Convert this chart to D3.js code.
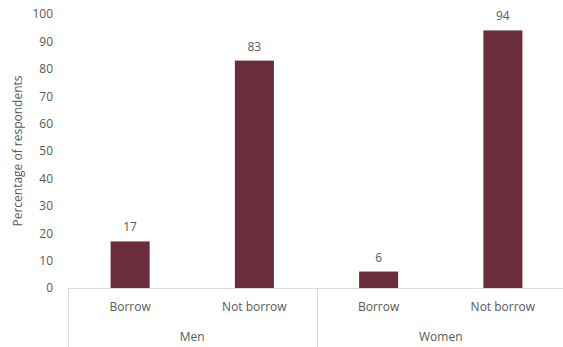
<!DOCTYPE html>
<html>
<head>
<meta charset="utf-8">
<script src="https://cdn.jsdelivr.net/npm/d3@7"></script>
<style>
  html, body { margin: 0; padding: 0; background: #fff; }
  svg text { font-family: "Open Sans", Lato, sans-serif; fill: #595959; }
</style>
</head>
<body>
<svg id="chart" width="563" height="347"></svg>
<script>
// Share of respondents who borrow, by gender
const groups = ["Men", "Women"];
const categories = ["Borrow", "Not borrow"];
const values = [17, 83, 6, 94];
const yTicks = [0, 10, 20, 30, 40, 50, 60, 70, 80, 90, 100];

const svg = d3.select("#chart");
const plotLeft = 68, plotRight = 565, plotTop = 14, plotBottom = 288;
const fontSize = "12px";

const rows = [];
groups.forEach((g, gi) => categories.forEach((c, ci) => {
  rows.push({ key: g + "|" + c, group: g, cat: c, value: values[gi * categories.length + ci] });
}));

const x = d3.scaleBand().domain(rows.map(d => d.key)).range([plotLeft, plotRight])
  .paddingInner(0.686).paddingOuter(0.343);
const step = x.step();
const y = d3.scaleLinear().domain([0, 100]).range([plotBottom, plotTop]);

// y tick labels (no axis line)
const yAxis = d3.axisLeft(y).tickValues(yTicks).tickSize(0).tickPadding(0);
const gy = svg.append("g").attr("transform", `translate(${plotLeft - 15},0)`).call(yAxis);
gy.select(".domain").remove();
gy.selectAll("text").style("font-size", fontSize).style("font-family", "'Open Sans', Lato, sans-serif").attr("fill", "#595959");

// y title
svg.append("text")
  .attr("transform", `translate(22,${(plotTop + plotBottom) / 2}) rotate(-90)`)
  .attr("text-anchor", "middle")
  .style("font-size", fontSize)
  .text("Percentage of respondents");

// bars
svg.selectAll("rect.bar").data(rows).join("rect")
  .attr("class", "bar")
  .attr("x", d => x(d.key))
  .attr("width", x.bandwidth())
  .attr("y", d => y(d.value))
  .attr("height", d => y(0) - y(d.value))
  .attr("fill", "#6b2d3c");

// value labels
svg.selectAll("text.val").data(rows).join("text")
  .attr("class", "val")
  .attr("x", d => x(d.key) + x.bandwidth() / 2)
  .attr("y", d => y(d.value) - 10)
  .attr("text-anchor", "middle")
  .style("font-size", fontSize)
  .text(d => d.value);

// category axis baseline and group separators
const axisColor = "#d9d9d9";
svg.append("line").attr("x1", plotLeft).attr("x2", plotRight).attr("y1", plotBottom + 0.5).attr("y2", plotBottom + 0.5)
  .attr("stroke", axisColor).attr("stroke-width", 1);
const seps = [0, categories.length, rows.length];
seps.forEach(i => {
  const sx = Math.round(plotLeft + i * step) + 0.5;
  svg.append("line").attr("x1", sx).attr("x2", sx).attr("y1", plotBottom).attr("y2", 347)
    .attr("stroke", axisColor).attr("stroke-width", 1);
});

// category labels
svg.selectAll("text.cat").data(rows).join("text")
  .attr("class", "cat")
  .attr("x", d => x(d.key) + x.bandwidth() / 2)
  .attr("y", plotBottom + 23)
  .attr("text-anchor", "middle")
  .style("font-size", fontSize)
  .text(d => d.cat);

// group labels
svg.selectAll("text.grp").data(groups).join("text")
  .attr("class", "grp")
  .attr("x", (d, i) => plotLeft + (i * categories.length + categories.length / 2) * step)
  .attr("y", plotBottom + 53)
  .attr("text-anchor", "middle")
  .style("font-size", fontSize)
  .text(d => d);
</script>
</body>
</html>
